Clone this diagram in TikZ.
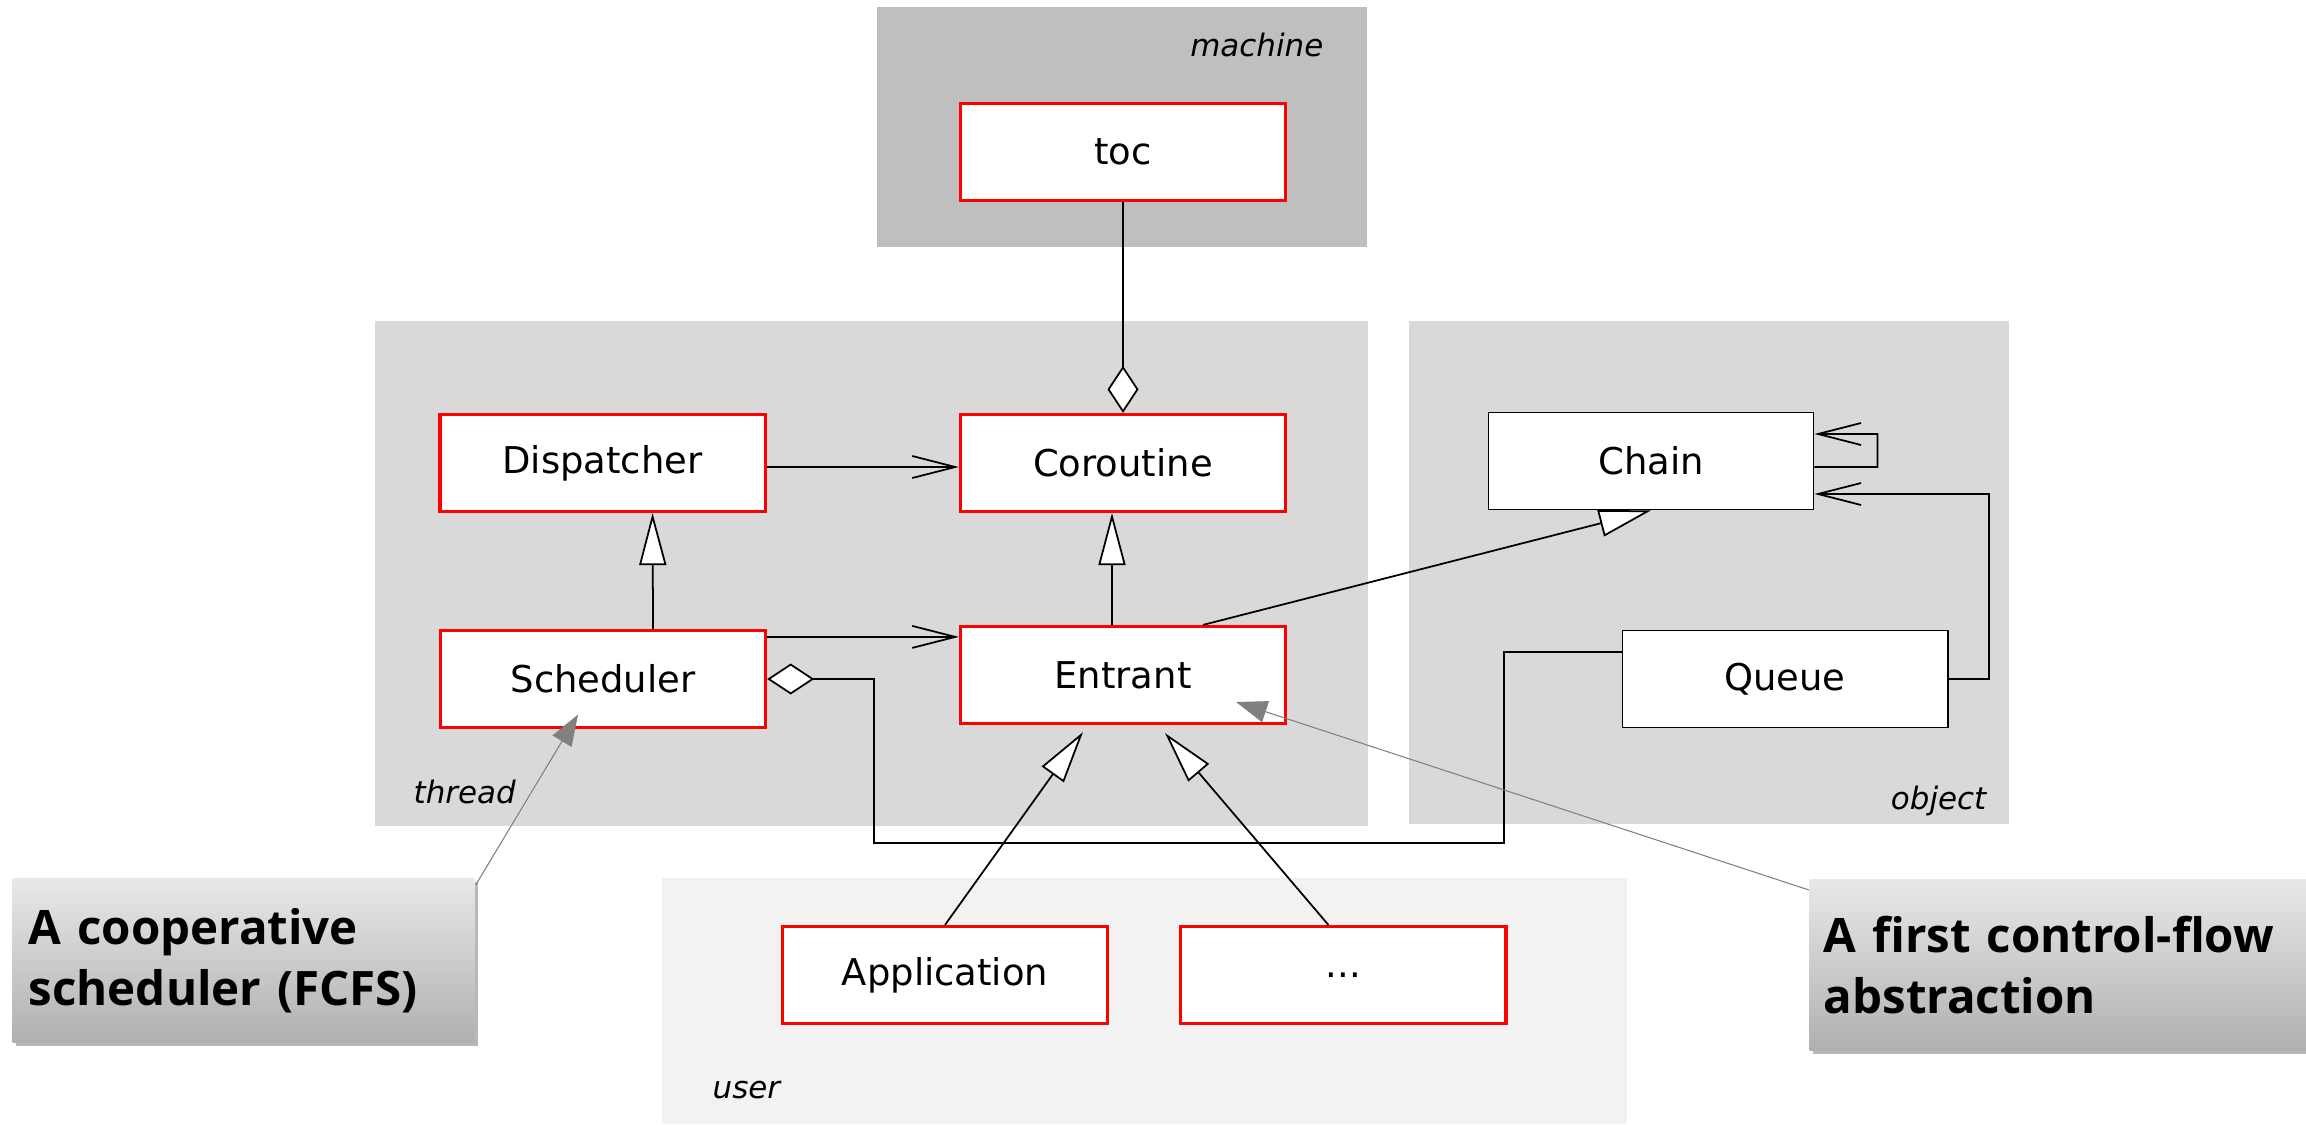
\documentclass[tikz,border=0pt]{standalone}
\usepackage{fontspec}
\setmainfont{DejaVu Sans}
\newfontfamily\notefont{Open Sans}
\usetikzlibrary{arrows.meta,positioning,shadows}

\definecolor{paneDark}{HTML}{BFBFBF}
\definecolor{paneMid}{HTML}{D9D9D9}
\definecolor{paneLight}{HTML}{F2F2F2}

\begin{document}
\begin{tikzpicture}[
    x=0.01cm, y=-0.01cm,
    cls/.style={rectangle, draw=red, fill=white, line width=0.9pt, minimum width=3.25cm, minimum height=0.97cm, font=\fontsize{10.5}{12}\selectfont},
    plain/.style={cls, draw=black, line width=0.5pt},
    tag/.style={inner sep=0pt, font=\fontsize{8.8}{10}\selectfont\itshape},
    note/.style={rectangle, top color=black!9, bottom color=black!31, drop shadow={shadow xshift=1pt, shadow yshift=-1pt, fill=black!28, opacity=1}, align=left, inner ysep=0pt, font=\notefont\bfseries\fontsize{13.5}{17.5}\selectfont},
    inherit/.style={-{Triangle[length=5.2mm, width=2.7mm, fill=white]}, line width=0.5pt},
    assoc/.style={-{Straight Barb[length=4.3mm, width=2.2mm]}, line width=0.5pt},
    aggr/.style={{Diamond[length=4.7mm, width=3.1mm, fill=white]}-, line width=0.5pt},
    pointer/.style={-{Triangle[length=3.1mm, width=2.2mm]}, draw=black!50, line width=0.3pt}
]
    \useasboundingbox (0,0) rectangle (2306,1124);

    % packages
    \fill[paneDark] (877,7) rectangle (1367,247);
    \fill[paneMid] (375,321) rectangle (1368,826);
    \fill[paneMid] (1409,321) rectangle (2009,824);
    \fill[paneLight] (662,878) rectangle (1627,1124);
    \node[tag, anchor=base east] (machineTag) at (1324,57) {machine};
    \node[tag, anchor=base west] (threadTag) at (413,803) {thread};
    \node[tag, anchor=base east] (objectTag) at (1987,809) {object};
    \node[tag, anchor=base west] (userTag) at (712,1098) {user};

    % classes
    \node[cls] (toc) at (1123,152) {toc};
    \node[cls] (coroutine) at (1123,463) {Coroutine};
    \node[cls, left=1.92cm of coroutine] (dispatcher) {Dispatcher};
    \node[cls] (entrant) at (1123,675) {Entrant};
    \node[cls] (scheduler) at (603,679) {Scheduler};
    \node[plain] (chain) at (1651,461) {Chain};
    \node[plain] (queue) at (1785,679) {Queue};
    \node[cls] (application) at (945,975) {Application};
    \node[cls, right=0.70cm of application] (dots) {...};

    % callouts
    \node[note, text width=4.30cm, inner xsep=0.16cm, minimum height=1.64cm, anchor=north west] (noteA) at (12,878) {A cooperative\\scheduler (FCFS)};
    \node[note, text width=5.00cm, inner xsep=0.14cm, minimum height=1.71cm, anchor=north west] (noteB) at (1809,879) {A first control-flow\\abstraction};

    \coordinate (bendA) at (874,843);
    \coordinate (bendB) at (1504,652);
    \coordinate (turnC) at (1989,494);

    % relations
    \draw[aggr] (coroutine.north) -- (toc.south);
    \draw[assoc] ([yshift=-0.04cm]dispatcher.east) -- ([yshift=-0.04cm]coroutine.west);
    \draw[inherit] ([xshift=0.5cm]scheduler.north) -- ([xshift=0.5cm]dispatcher.south);
    \draw[inherit] ([xshift=-0.11cm]entrant.north) -- ([xshift=-0.11cm]coroutine.south);
    \draw[assoc] ([yshift=-0.08cm]scheduler.north east) -- ([yshift=-0.08cm]scheduler.north east -| entrant.west);
    \draw[aggr] (scheduler.east) -| (bendA) -| (bendB) -- (bendB -| queue.west);
    \draw[inherit] ([xshift=0.8cm]entrant.north) -- (chain.south);
    \draw[assoc] ([yshift=-0.06cm]chain.east) -- ++(63,0) -- ++(0,-33) -- ([yshift=0.27cm]chain.east);
    \draw[assoc] (queue.east) -| (turnC) -- (turnC -| chain.east);
    \draw[inherit] (application.north) -- ([xshift=-0.40cm, yshift=-0.07cm]entrant.south);
    \draw[inherit] ([xshift=-0.15cm]dots.north) -- ([xshift=0.42cm, yshift=-0.08cm]entrant.south);

    % pointers
    \draw[pointer] ([yshift=-0.07cm]noteA.north east) -- ([xshift=-0.25cm, yshift=0.145cm]scheduler.south);
    \draw[pointer] ([yshift=-0.11cm]noteB.north west) -- ([xshift=1.13cm, yshift=-0.27cm]entrant.center);
\end{tikzpicture}
\end{document}
